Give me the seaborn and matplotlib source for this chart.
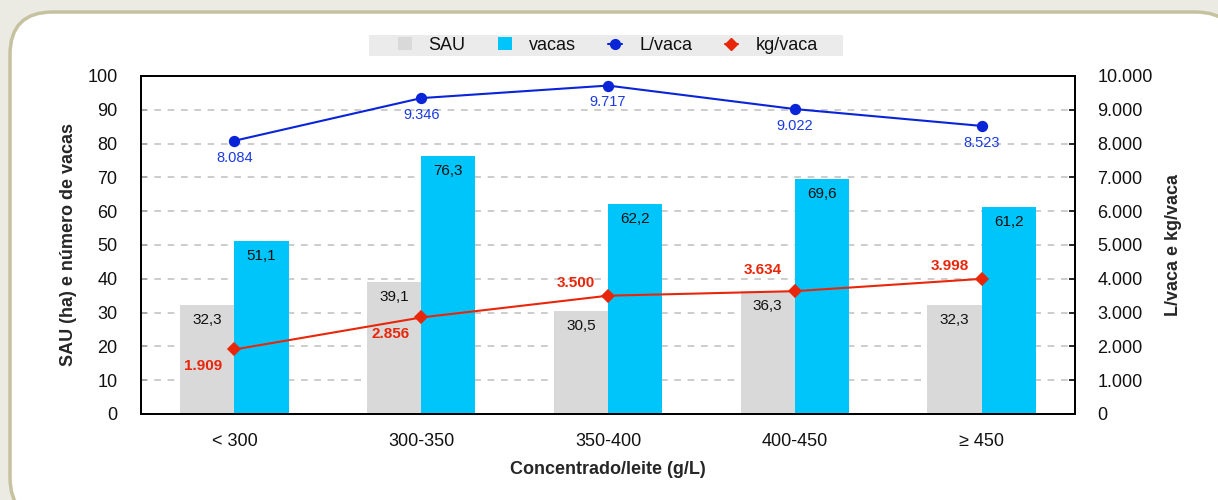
import matplotlib
matplotlib.use("Agg")
import matplotlib.pyplot as plt
import seaborn as sns
import pandas as pd
import numpy as np
from matplotlib.patches import FancyBboxPatch, Patch, Rectangle
from matplotlib.lines import Line2D
from matplotlib.ticker import FuncFormatter, FixedLocator

categories = ["< 300", "300-350", "350-400", "400-450", "≥ 450"]
sau = [32.3, 39.1, 30.5, 36.3, 32.3]
vacas = [51.1, 76.3, 62.2, 69.6, 61.2]
l_vaca = [8084, 9346, 9717, 9022, 8523]
kg_vaca = [1909, 2856, 3500, 3634, 3998]

sns.set_theme(style="white")
plt.rcParams['font.family'] = ['Liberation Sans', 'DejaVu Sans']

C_SAU = "#d9d9d9"
C_VAC = "#00c5fa"
C_L = "#0a24d8"
C_KG = "#e8260a"

fig = plt.figure(figsize=(12.18, 5.0), dpi=100, facecolor="#ebebe4")
# frame
frame = FancyBboxPatch((10/1218, -20/500), 1228/1218, 508/500,
                       boxstyle="round,pad=0,rounding_size=0.035",
                       transform=fig.transFigure, facecolor="white",
                       edgecolor="#c6c2a0", linewidth=2.5, zorder=-10,
                       mutation_aspect=1218/500)
fig.patches.append(frame)
# legend background band
fig.patches.append(Rectangle((369/1218, 1 - 56/500), (843-369)/1218, 21/500,
                             transform=fig.transFigure, facecolor="#ebebeb",
                             edgecolor="none", zorder=-5))

ax = fig.add_axes([141/1218, 1 - 414/500, (1075-141)/1218, (414-76)/500])
ax.set_facecolor("none")

df = pd.DataFrame({
    "cat": categories * 2,
    "val": sau + vacas,
    "serie": ["SAU"] * 5 + ["vacas"] * 5,
})
sns.barplot(data=df, x="cat", y="val", hue="serie", ax=ax, width=0.58,
            palette={"SAU": C_SAU, "vacas": C_VAC}, dodge=True,
            saturation=1, legend=False, zorder=2, linewidth=0, edgecolor="none")

ax.set_ylim(0, 100)
ax.set_xlim(-0.5, 4.5)
ax.set_yticks(np.arange(0, 101, 10))
for y in range(10, 100, 10):
    ax.axhline(y, color="#c4c4c4", lw=1.2, ls=(0, (4, 4)), zorder=1)

for i, (s, v) in enumerate(zip(sau, vacas)):
    ax.text(i - 0.145, s - 4.4, f"{s:.1f}".replace(".", ","), ha="center",
            va="center", fontsize=11, color="#111111", zorder=5)
    ax.text(i + 0.145, v - 4.4, f"{v:.1f}".replace(".", ","), ha="center",
            va="center", fontsize=11, color="#111111", zorder=5)

ax.set_xticks(range(5))
ax.set_xticklabels(categories, fontsize=13)
ax.tick_params(axis="x", which="major", length=0, pad=14, colors="#111111")
ax.xaxis.set_minor_locator(FixedLocator(np.arange(-0.5, 4.6, 1)))
ax.tick_params(axis="x", which="minor", length=5, direction="out", width=1.2, color="black")
ax.tick_params(axis="y", direction="in", length=4, width=1.2, labelsize=13, pad=17,
               left=True, color="black", labelcolor="#111111")
ax.set_xlabel("Concentrado/leite (g/L)", fontsize=13, fontweight="bold", va="center")
ax.xaxis.set_label_coords(0.5, -0.163)
ax.set_ylabel("SAU (ha) e número de vacas", fontsize=13, fontweight="bold", va="center")
ax.yaxis.set_label_coords(-0.078, 0.5)
for sp in ax.spines.values():
    sp.set_color("black")
    sp.set_linewidth(1.3)

ax2 = ax.twinx()
ax2.set_ylim(0, 10000)
sns.pointplot(x=categories, y=l_vaca, ax=ax2, color=C_L, markers="o",
              linestyles="-", markersize=7, linewidth=1.5, zorder=6)
sns.pointplot(x=categories, y=kg_vaca, ax=ax2, color=C_KG, markers="D",
              linestyles="-", markersize=6, linewidth=1.5, zorder=6)
ax2.set_xlim(-0.5, 4.5)
ax2.set_ylim(0, 10000)
ax2.set_yticks(np.arange(0, 10001, 1000))
ax2.yaxis.set_major_formatter(FuncFormatter(lambda v, p: f"{int(v):,}".replace(",", ".")))
ax2.tick_params(axis="y", direction="in", length=4, width=1.2, labelsize=13, pad=16,
                right=True, color="black", labelcolor="#111111")
ax2.set_ylabel("L/vaca e kg/vaca", fontsize=13, fontweight="bold", va="center")
ax2.yaxis.set_label_coords(1.105, 0.5)
for sp in ax2.spines.values():
    sp.set_color("black")
    sp.set_linewidth(1.3)

fmt = lambda v: f"{v:,}".replace(",", ".")
for i, v in enumerate(l_vaca):
    ax2.text(i, v - 500, fmt(v), ha="center", va="center", fontsize=10.5,
             color="#1a3ae0", zorder=7)
kg_off = [(-0.17, -500), (-0.166, -500), (-0.17, 385), (-0.17, 620), (-0.17, 385)]
for i, v in enumerate(kg_vaca):
    dx, dy = kg_off[i]
    ax2.text(i + dx, v + dy, fmt(v), ha="center", va="center", fontsize=11,
             fontweight="bold", color=C_KG, zorder=7)

handles = [Patch(facecolor=C_SAU, edgecolor="none"),
           Patch(facecolor=C_VAC, edgecolor="none"),
           Line2D([0], [0], color=C_L, marker="o", markersize=7, lw=1.5),
           Line2D([0], [0], color=C_KG, marker="D", markersize=6, lw=1.5)]
leg = fig.legend(handles, ["SAU", "vacas", "L/vaca", "kg/vaca"], ncol=4,
                 loc="center left", bbox_to_anchor=(398/1218, 1 - 45.5/500),
                 frameon=False, fontsize=13, handlelength=0.75, handleheight=0.75,
                 columnspacing=1.8, handletextpad=0.95, borderpad=0, borderaxespad=0)
for t in leg.get_texts():
    t.set_color("#111111")

fig.savefig("out.png", dpi=100, facecolor=fig.get_facecolor())
